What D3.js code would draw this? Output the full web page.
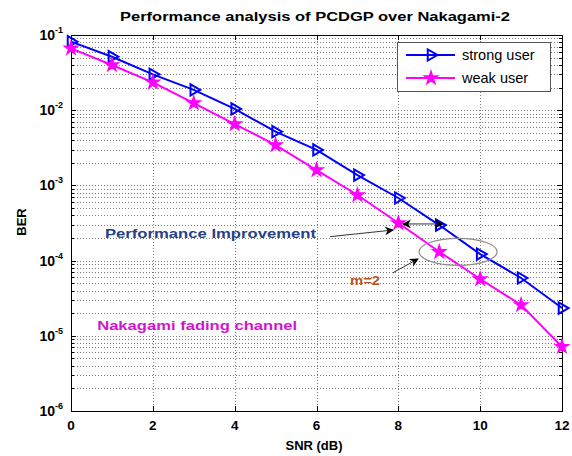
<!DOCTYPE html>
<html>
<head>
<meta charset="utf-8">
<script src="https://cdn.jsdelivr.net/npm/d3@7"></script>
<style>
  html, body { margin: 0; padding: 0; background: #fff; }
  svg { display: block; font-family: "Liberation Sans", Arial, sans-serif; }
</style>
</head>
<body>
<svg id="chart" width="572" height="456"></svg>
<script>
// ---------- data ----------
const snr = [0, 1, 2, 3, 4, 5, 6, 7, 8, 9, 10, 11, 12];
const strongUser = [0.0815, 0.0514, 0.0300, 0.0186, 0.0104, 0.00518, 0.00296, 0.00137, 6.8e-4, 2.97e-4, 1.22e-4, 5.87e-5, 2.34e-5];
const weakUser = [0.0665, 0.0399, 0.0235, 0.0124, 0.00655, 0.00344, 0.0016, 7.45e-4, 3.16e-4, 1.31e-4, 5.69e-5, 2.57e-5, 7.16e-6];
const xTicks = [0, 2, 4, 6, 8, 10, 12];
const yDecades = [-6, -5, -4, -3, -2, -1];
const seriesNames = ["strong user", "weak user"];
const titleText = "Performance analysis of PCDGP over Nakagami-2";
const xLabel = "SNR (dB)";
const yLabel = "BER";

// annotations in data coordinates [SNR, BER]
const noteImprove = { text: "Performance Improvement", x: 0.83, y: 2.33e-4 };
const noteArrow1 = [[6.33, 2.08e-4], [7.87, 2.55e-4]];
const noteDouble = [[8.11, 3.07e-4], [9.09, 3.07e-4]];
const noteEllipse = { x: 9.46, y: 1.31e-4 };
const noteArrow2 = [[7.87, 6.9e-5], [8.48, 1.05e-4]];
const noteM = { text: "m=2", x: 6.82, y: 5.5e-5 };
const noteChannel = { text: "Nakagami fading channel", x: 0.64, y: 1.39e-5 };

// ---------- layout ----------
const svg = d3.select("#chart");
const L = 71, R = 562, T = 35, B = 411;
const x = d3.scaleLinear().domain([0, 12]).range([L, R]);
const y = d3.scaleLog().domain([1e-6, 1e-1]).range([B, T]);

// defs: arrowheads
const defs = svg.append("defs");
defs.append("marker").attr("id", "ah").attr("viewBox", "0 0 10 10")
  .attr("refX", 9).attr("refY", 5).attr("markerWidth", 9).attr("markerHeight", 9)
  .attr("markerUnits", "userSpaceOnUse").attr("orient", "auto-start-reverse")
  .append("path").attr("d", "M0,0 L10,5 L0,10 L3,5 Z").attr("fill", "#000");

// grid
const grid = svg.append("g").attr("stroke", "#7a7a7a").attr("stroke-width", 1)
  .attr("stroke-dasharray", "1,2").attr("fill", "none");
const yGrid = [];
yDecades.forEach(d => {
  for (let k = 1; k <= 9; k++) {
    const v = k * Math.pow(10, d);
    if (v > 1e-6 && v < 1e-1) yGrid.push(v);
  }
});
grid.selectAll("line.gy").data(yGrid).join("line").attr("class", "gy")
  .attr("x1", L).attr("x2", R)
  .attr("y1", d => Math.round(y(d)) + 0.5).attr("y2", d => Math.round(y(d)) + 0.5);
grid.selectAll("line.gx").data(xTicks.slice(1, -1)).join("line").attr("class", "gx")
  .attr("y1", T).attr("y2", B)
  .attr("x1", d => Math.round(x(d)) + 0.5).attr("x2", d => Math.round(x(d)) + 0.5);

// frame
svg.append("rect").attr("x", L + 0.5).attr("y", T + 0.5).attr("width", R - L).attr("height", B - T)
  .attr("fill", "none").attr("stroke", "#000").attr("stroke-width", 1);

// ticks (inside, MATLAB style)
const tk = svg.append("g").attr("stroke", "#000").attr("stroke-width", 1);
xTicks.forEach(v => {
  const px = Math.round(x(v)) + 0.5;
  tk.append("line").attr("x1", px).attr("x2", px).attr("y1", B).attr("y2", B - 5);
  tk.append("line").attr("x1", px).attr("x2", px).attr("y1", T).attr("y2", T + 5);
});
yGrid.concat(yDecades.map(d => Math.pow(10, d))).forEach(v => {
  const py = Math.round(y(v)) + 0.5;
  const len = Math.abs(Math.log10(v) - Math.round(Math.log10(v))) < 1e-6 ? 5 : 3;
  tk.append("line").attr("x1", L).attr("x2", L + len).attr("y1", py).attr("y2", py);
  tk.append("line").attr("x1", R - len).attr("x2", R).attr("y1", py).attr("y2", py);
});

// x tick labels
svg.append("g").selectAll("text").data(xTicks).join("text")
  .attr("x", d => x(d)).attr("y", 430)
  .attr("text-anchor", "middle").attr("font-size", 13.5).attr("font-weight", "bold")
  .text(d => d);

// y tick labels
const yl = svg.append("g").attr("font-weight", "bold");
yDecades.forEach(d => {
  const t = yl.append("text").attr("x", 63).attr("y", y(Math.pow(10, d)) + 5)
    .attr("text-anchor", "end").attr("font-size", 14);
  t.append("tspan").text("10");
  t.append("tspan").attr("dy", -7).attr("font-size", 9).text(String(d));
});

// axis labels & title
svg.append("text").attr("x", 314).attr("y", 450).attr("text-anchor", "middle")
  .attr("font-size", 13).attr("font-weight", "bold").text(xLabel);
svg.append("text").attr("transform", "translate(26,222) rotate(-90)").attr("text-anchor", "middle")
  .attr("font-size", 13).attr("font-weight", "bold").text(yLabel);
svg.append("text").attr("x", 120).attr("y", 21)
  .attr("font-size", 13.5).attr("font-weight", "bold")
  .attr("textLength", 390).attr("lengthAdjust", "spacingAndGlyphs").text(titleText);

// series
const line = d3.line().x((d, i) => x(snr[i])).y(d => y(d));
const blue = "#0000ff", mag = "#ff00ff";
svg.append("path").datum(strongUser).attr("d", line).attr("fill", "none")
  .attr("stroke", blue).attr("stroke-width", 2);
svg.append("path").datum(weakUser).attr("d", line).attr("fill", "none")
  .attr("stroke", mag).attr("stroke-width", 2);

const tri = d3.symbol().type(d3.symbolTriangle).size(55);
const star = d3.symbol().type(d3.symbolStar).size(50);
svg.append("g").selectAll("path").data(strongUser).join("path")
  .attr("d", tri).attr("transform", (d, i) => `translate(${x(snr[i])},${y(d)}) rotate(90)`)
  .attr("fill", "none").attr("stroke", blue).attr("stroke-width", 2);
svg.append("g").selectAll("path").data(weakUser).join("path")
  .attr("d", star).attr("transform", (d, i) => `translate(${x(snr[i])},${y(d)})`)
  .attr("fill", mag).attr("stroke", mag).attr("stroke-width", 1.5);

// annotations
svg.append("text").attr("x", x(noteImprove.x)).attr("y", y(noteImprove.y) + 5)
  .attr("font-size", 13).attr("font-weight", "bold").attr("fill", "#26408c")
  .attr("textLength", 211).attr("lengthAdjust", "spacingAndGlyphs").text(noteImprove.text);
svg.append("line")
  .attr("x1", x(noteArrow1[0][0])).attr("y1", y(noteArrow1[0][1]))
  .attr("x2", x(noteArrow1[1][0])).attr("y2", y(noteArrow1[1][1]))
  .attr("stroke", "#333").attr("stroke-width", 1).attr("marker-end", "url(#ah)");
svg.append("line")
  .attr("x1", x(noteDouble[0][0])).attr("y1", y(noteDouble[0][1]))
  .attr("x2", x(noteDouble[1][0])).attr("y2", y(noteDouble[1][1]))
  .attr("stroke", "#333").attr("stroke-width", 1)
  .attr("marker-start", "url(#ah)").attr("marker-end", "url(#ah)");
svg.append("ellipse").attr("cx", x(noteEllipse.x)).attr("cy", y(noteEllipse.y))
  .attr("rx", 39).attr("ry", 13.5).attr("fill", "none").attr("stroke", "#8c8c8c").attr("stroke-width", 1.2);
svg.append("line")
  .attr("x1", x(noteArrow2[0][0])).attr("y1", y(noteArrow2[0][1]))
  .attr("x2", x(noteArrow2[1][0])).attr("y2", y(noteArrow2[1][1]))
  .attr("stroke", "#333").attr("stroke-width", 1).attr("marker-end", "url(#ah)");
svg.append("text").attr("x", x(noteM.x)).attr("y", y(noteM.y) + 5)
  .attr("font-size", 12).attr("font-weight", "bold").attr("fill", "#b5541f")
  .attr("textLength", 30).attr("lengthAdjust", "spacingAndGlyphs").text(noteM.text);
svg.append("text").attr("x", x(noteChannel.x)).attr("y", y(noteChannel.y) + 5)
  .attr("font-size", 13).attr("font-weight", "bold").attr("fill", "#d214d2")
  .attr("textLength", 200).attr("lengthAdjust", "spacingAndGlyphs").text(noteChannel.text);

// legend
const lg = svg.append("g");
lg.append("rect").attr("x", 397.5).attr("y", 42.5).attr("width", 153).attr("height", 49)
  .attr("fill", "#fff").attr("stroke", "#555").attr("stroke-width", 1);
const lgColors = [blue, mag];
seriesNames.forEach((name, i) => {
  const cy = 55 + i * 23;
  lg.append("line").attr("x1", 406).attr("x2", 455).attr("y1", cy).attr("y2", cy)
    .attr("stroke", lgColors[i]).attr("stroke-width", 2);
  if (i === 0) {
    lg.append("path").attr("d", tri).attr("transform", `translate(431,${cy}) rotate(90)`)
      .attr("fill", "none").attr("stroke", blue).attr("stroke-width", 2);
  } else {
    lg.append("path").attr("d", star).attr("transform", `translate(431,${cy})`)
      .attr("fill", mag).attr("stroke", mag).attr("stroke-width", 1.5);
  }
  lg.append("text").attr("x", 462).attr("y", cy + 5).attr("font-size", 14.5).text(name);
});
</script>
</body>
</html>
